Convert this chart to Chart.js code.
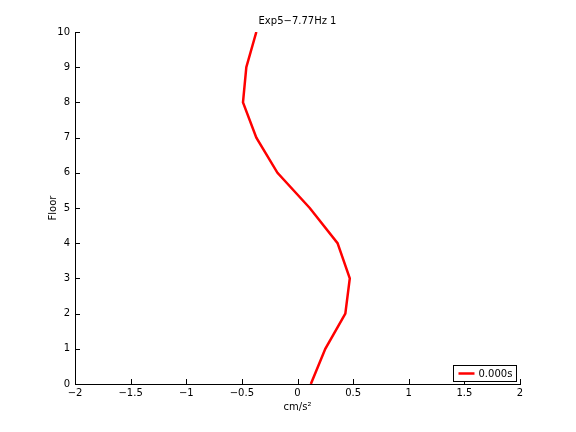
<!DOCTYPE html>
<html>
<head>
<meta charset="utf-8">
<script src="https://cdn.jsdelivr.net/npm/chart.js@4"></script>
<style>
  body { margin: 0; background: #fff; }
  #wrap { width: 576px; height: 432px; }
</style>
</head>
<body>
<div id="wrap"><canvas id="myChart"></canvas></div>
<script>
// Exp5 floor response

const floors = [0, 1, 2, 3, 4, 5, 6, 7, 8, 9, 10];
const accel = [0.12, 0.25, 0.43, 0.47, 0.36, 0.11, -0.18, -0.37, -0.49, -0.46, -0.37];
const xTicks = [-2, -1.5, -1, -0.5, 0, 0.5, 1, 1.5, 2];
const yTicks = [0, 1, 2, 3, 4, 5, 6, 7, 8, 9, 10];
const seriesLabel = '0.000s';

const points = floors.map((f, i) => ({ x: accel[i], y: f }));

const fontFam = 'DejaVu Sans, sans-serif';

const extras = {
    id: 'extras',
    afterDraw(chart) {
        const ctx = chart.ctx;
        const area = chart.chartArea;
        const xs = chart.scales.x;
        const ys = chart.scales.y;
        ctx.save();
        ctx.strokeStyle = '#000';
        ctx.lineWidth = 1;
        // inward ticks
        ctx.beginPath();
        xTicks.forEach(v => {
            const px = Math.round(xs.getPixelForValue(v)) + 0.5;
            ctx.moveTo(px, area.bottom);
            ctx.lineTo(px, area.bottom - 5);
        });
        yTicks.forEach(v => {
            const py = Math.round(ys.getPixelForValue(v)) + 0.5;
            ctx.moveTo(area.left, py);
            ctx.lineTo(area.left + 5, py);
        });
        ctx.stroke();

        // title and axis labels
        ctx.fillStyle = '#000';
        ctx.font = '10px ' + fontFam;
        ctx.textAlign = 'center';
        ctx.textBaseline = 'middle';
        ctx.fillText('Exp5\u22127.77Hz 1', (area.left + area.right) / 2, 21);
        ctx.fillText('cm/s\u00b2', (area.left + area.right) / 2, 407);
        ctx.save();
        ctx.translate(53, (area.top + area.bottom) / 2);
        ctx.rotate(-Math.PI / 2);
        ctx.fillText('Floor', 0, 0);
        ctx.restore();

        // legend box
        const bx = 453.5, by = 365.5, bw = 63, bh = 16;
        ctx.fillStyle = '#fff';
        ctx.fillRect(bx, by, bw, bh);
        ctx.strokeRect(bx, by, bw, bh);
        ctx.strokeStyle = chart.data.datasets[0].borderColor;
        ctx.lineWidth = 2.5;
        ctx.beginPath();
        ctx.moveTo(bx + 5, by + bh / 2);
        ctx.lineTo(bx + 21, by + bh / 2);
        ctx.stroke();
        ctx.fillStyle = '#000';
        ctx.textAlign = 'left';
        ctx.fillText(chart.data.datasets[0].label, bx + 25, by + bh / 2 + 0.5);
        ctx.restore();
    }
};

const ctx = document.getElementById('myChart').getContext('2d');
const myChart = new Chart(ctx, {
    type: 'scatter',
    data: {
        datasets: [{
            label: seriesLabel,
            data: points,
            showLine: true,
            borderColor: '#ff0000',
            borderWidth: 2.5,
            pointRadius: 0,
            fill: false,
            tension: 0
        }]
    },
    options: {
        responsive: true,
        maintainAspectRatio: false,
        animation: false,
        layout: { padding: { top: 32, right: 56, left: 0, bottom: 0 } },
        plugins: {
            legend: { display: false },
            tooltip: { enabled: false }
        },
        scales: {
            x: {
                type: 'linear',
                min: -2,
                max: 2,
                afterBuildTicks: s => { s.ticks = xTicks.map(v => ({ value: v })); },
                afterFit: s => { s.height = 48; },
                ticks: {
                    color: '#000',
                    font: { size: 10, family: fontFam },
                    padding: 3,
                    maxRotation: 0,
                    callback: v => String(v).replace('-', '\u2212')
                },
                grid: { drawOnChartArea: false, drawTicks: false },
                border: { color: '#000', width: 1 }
            },
            y: {
                type: 'linear',
                min: 0,
                max: 10,
                afterBuildTicks: s => { s.ticks = yTicks.map(v => ({ value: v })); },
                afterFit: s => { s.width = 75; },
                ticks: {
                    color: '#000',
                    font: { size: 10, family: fontFam },
                    padding: 5
                },
                grid: { drawOnChartArea: false, drawTicks: false },
                border: { color: '#000', width: 1 }
            }
        }
    },
    plugins: [extras]
});
</script>
</body>
</html>
